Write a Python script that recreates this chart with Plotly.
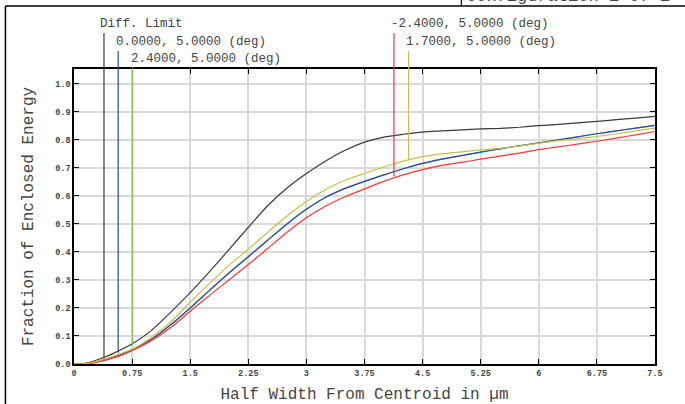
import plotly.graph_objects as go

# ---- data ----
x_um = [0, 0.1, 0.2, 0.3, 0.4, 0.5, 0.6, 0.75, 1.0, 1.25, 1.5, 1.75, 2.0, 2.25, 2.5, 2.75,
        3.0, 3.25, 3.5, 3.75, 4.0, 4.25, 4.5, 4.75, 5.0, 5.25, 5.5, 5.75, 6.0, 6.25, 6.5,
        6.75, 7.0, 7.25, 7.5]
diff_limit = [0, 0.0, 0.006, 0.015, 0.025, 0.037, 0.05, 0.071, 0.12, 0.185, 0.255, 0.33, 0.408,
              0.488, 0.565, 0.628, 0.68, 0.725, 0.763, 0.792, 0.81, 0.82, 0.828, 0.832, 0.836,
              0.839, 0.841, 0.845, 0.851, 0.855, 0.861, 0.866, 0.872, 0.878, 0.884]
field_0_0 = [0, 0, 0.003, 0.009, 0.016, 0.024, 0.033, 0.05, 0.088, 0.14, 0.20, 0.263, 0.325, 0.383,
             0.442, 0.50, 0.552, 0.595, 0.627, 0.652, 0.675, 0.697, 0.716, 0.731, 0.744, 0.756,
             0.768, 0.779, 0.789, 0.80, 0.811, 0.822, 0.832, 0.842, 0.852]
field_2_4 = [0, 0, 0.003, 0.009, 0.016, 0.024, 0.033, 0.05, 0.088, 0.14, 0.20, 0.263, 0.325, 0.383,
             0.442, 0.50, 0.552, 0.595, 0.627, 0.652, 0.675, 0.697, 0.716, 0.731, 0.744, 0.756,
             0.768, 0.779, 0.789, 0.80, 0.811, 0.822, 0.832, 0.842, 0.852]
field_m2_4 = [0, 0, 0.002, 0.007, 0.013, 0.021, 0.03, 0.047, 0.083, 0.13, 0.188, 0.245, 0.300, 0.355,
              0.412, 0.47, 0.522, 0.564, 0.597, 0.625, 0.652, 0.675, 0.694, 0.709, 0.72, 0.731,
              0.742, 0.753, 0.765, 0.775, 0.785, 0.795, 0.806, 0.818, 0.830]
field_1_7 = [0, 0, 0.004, 0.01, 0.018, 0.027, 0.037, 0.053, 0.095, 0.15, 0.22, 0.288, 0.352, 0.41,
             0.47, 0.528, 0.58, 0.623, 0.656, 0.68, 0.703, 0.724, 0.74, 0.75, 0.757, 0.764,
             0.77, 0.778, 0.788, 0.797, 0.804, 0.812, 0.822, 0.832, 0.842]

series_names = ["Diff. Limit", "2.4000, 5.0000 (deg)", "0.0000, 5.0000 (deg)",
                "-2.4000, 5.0000 (deg)", "1.7000, 5.0000 (deg)"]
series_values = [diff_limit, field_2_4, field_0_0, field_m2_4, field_1_7]
series_colors = ["#3a3a3a", "#7cc25a", "#2a44b0", "#ff3434", "#c8c040"]

# label leader lines: x position, curve value at bottom, top value (data units)
leader_x = [0.387, 0.755, 0.57, 4.13, 4.32]
leader_bottom = [0.02, 0.065, 0.04, 0.670, 0.730]
leader_top = [1.185, 1.062, 1.121, 1.185, 1.121]
# label text positions: x in data units, y in paper units
label_x = [0.315, 0.705, 0.51, 4.07, 4.255]
label_y = [1.1525, 1.034, 1.0915, 1.1525, 1.0915]

x_tickvals = [0, 0.75, 1.5, 2.25, 3, 3.75, 4.5, 5.25, 6, 6.75, 7.5]
x_ticktext = ["0", "0.75", "1.5", "2.25", "3", "3.75", "4.5", "5.25", "6", "6.75", "7.5"]
y_tickvals = [0, 0.1, 0.2, 0.3, 0.4, 0.5, 0.6, 0.7, 0.8, 0.9, 1.0]
y_ticktext = ["0.0", "0.1", "0.2", "0.3", "0.4", "0.5", "0.6", "0.7", "0.8", "0.9", "1.0"]

MONO = "Liberation Mono, Courier New, monospace"
TXT = "#444444"

fig = go.Figure()
for name, vals, col in zip(series_names, series_values, series_colors):
    fig.add_trace(go.Scatter(x=x_um, y=vals, mode="lines", name=name,
                             line=dict(color=col, width=1.2, shape="spline", smoothing=0.6),
                             showlegend=False))

annotations = []
for name, lx, lb, lt, tx, ty, col in zip(series_names, leader_x, leader_bottom, leader_top,
                                          label_x, label_y, series_colors):
    annotations.append(dict(x=lx, y=lb, xref="x", yref="y", ax=lx, ay=lt, axref="x", ayref="y",
                            text=" ", font=dict(size=1), showarrow=True, arrowhead=0,
                            arrowwidth=1.2, arrowcolor=col, standoff=0, startstandoff=0,
                            borderpad=0))
    annotations.append(dict(x=tx, y=ty, xref="x", yref="paper", text=name, showarrow=False,
                            xanchor="left", yanchor="middle",
                            font=dict(family=MONO, size=12.5, color=TXT)))

annotations.append(dict(x=0.672, y=1.208, xref="paper", yref="paper", text="Configuration 1 of 1",
                        showarrow=False, xanchor="left", yanchor="bottom",
                        font=dict(family=MONO, size=17, color=TXT)))

shapes = [
    dict(type="line", xref="paper", yref="paper", x0=-0.118, x1=1.06, y0=1.2136, y1=1.2136,
         line=dict(color="#000000", width=1.5)),
    dict(type="line", xref="paper", yref="paper", x0=-0.118, x1=-0.118, y0=-0.2, y1=1.2136,
         line=dict(color="#000000", width=1.5)),
    dict(type="line", xref="paper", yref="paper", x0=0.6667, x1=0.6667, y0=1.2136, y1=1.3,
         line=dict(color="#000000", width=1.2)),
]

fig.update_layout(
    width=685, height=404,
    margin=dict(l=74, r=30, t=69, b=40, autoexpand=False),
    paper_bgcolor="white", plot_bgcolor="white",
    annotations=annotations, shapes=shapes,
    showlegend=False,
    xaxis=dict(range=[0, 7.5], tickvals=x_tickvals, ticktext=x_ticktext,
               showgrid=True, gridcolor="#d9d9d9", gridwidth=1.5,
               showline=True, linecolor="#000000", linewidth=1.5, mirror="ticks",
               ticks="inside", ticklen=5, tickcolor="#000000", zeroline=False,
               tickfont=dict(family=MONO, size=8.5, color=TXT, weight="bold"),
               title=dict(text="Half Width From Centroid in µm", standoff=11,
                          font=dict(family=MONO, size=16, color=TXT))),
    yaxis=dict(range=[0, 1.053], tickvals=y_tickvals, ticktext=y_ticktext,
               showgrid=True, gridcolor="#d9d9d9", gridwidth=1.5,
               showline=True, linecolor="#000000", linewidth=1.5, mirror="ticks",
               ticks="inside", ticklen=5, tickcolor="#000000", zeroline=False,
               tickfont=dict(family=MONO, size=8.5, color=TXT, weight="bold"),
               title=dict(text="Fraction of Enclosed Energy", standoff=18,
                          font=dict(family=MONO, size=16, color=TXT))),
)

fig.write_html("out.html", config={"displayModeBar": False},
               post_script="document.body.style.margin='0';")
